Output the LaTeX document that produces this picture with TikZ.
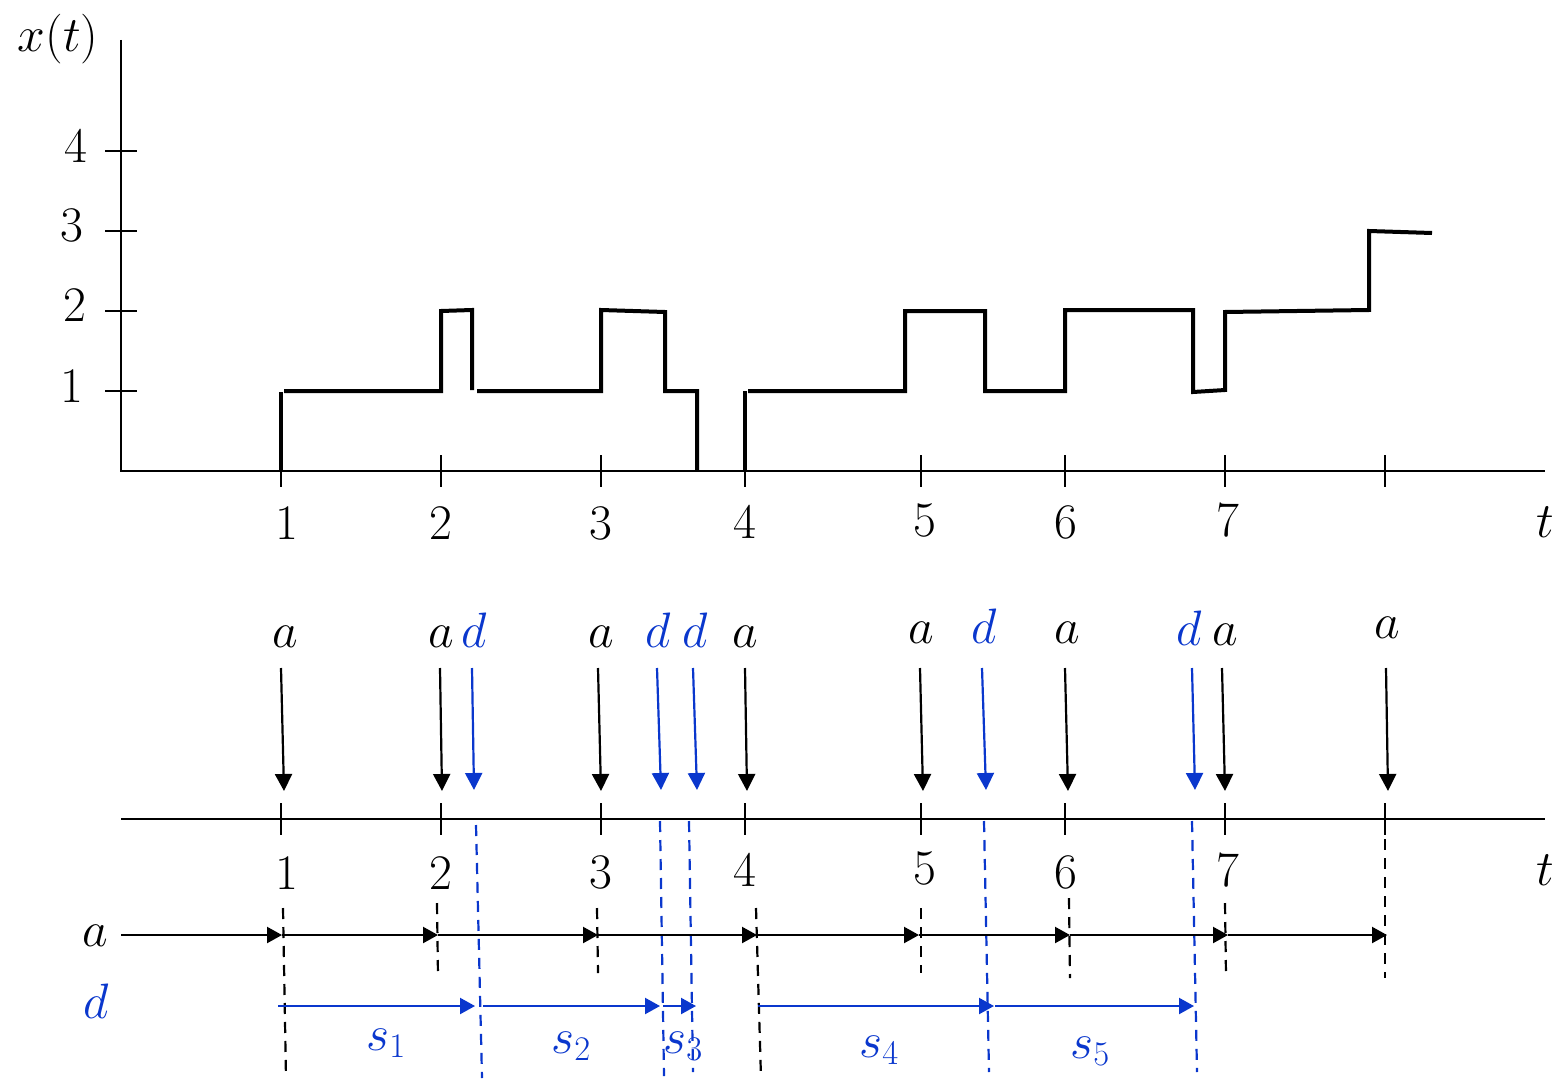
\documentclass[tikz,border=0pt]{standalone}
\usetikzlibrary{arrows.meta}
\definecolor{dblue}{RGB}{10,55,205}
\begin{document}
\begin{tikzpicture}[x=0.5pt,y=-0.5pt,
  lbl/.style={inner sep=0pt,font=\fontsize{26.5}{31}\selectfont},
  thin/.style={line width=1pt},
  sig/.style={line width=2pt,line join=miter},
  varr/.style={line width=1.1pt,-{Triangle[width=8.5pt,length=8.5pt]}},
  harr/.style={line width=1.1pt,-{Triangle[width=8pt,length=7.5pt]}},
  bdash/.style={line width=1.1pt,dash pattern=on 5.5pt off 4pt},
  blu/.style={dblue}]
\useasboundingbox (0,0) rectangle (1568,1081);

% ---------- top plot ----------
\coordinate (yaxtop) at (121,40);
\coordinate (orig) at (121,471);
\coordinate (xaxend) at (1545,471);
\draw[thin] (yaxtop) -- (orig) -- (xaxend);
\foreach \yy/\nm in {151/4,231/3,311/2,391/1}{
  \coordinate (yt\nm a) at (105,\yy); \coordinate (yt\nm b) at (137,\yy);
  \draw[thin] (yt\nm a) -- (yt\nm b);
}
\node[lbl] (xt) at (58,39) {$x(t)$};
\node[lbl] (y4) at (76,146) {$4$};
\node[lbl] (y3) at (72,225) {$3$};
\node[lbl] (y2) at (75,305) {$2$};
\node[lbl] (y1) at (72,386) {$1$};
\foreach \xx [count=\i] in {281,441,601,745,921,1065,1225,1385}{
  \coordinate (xt\i a) at (\xx,455); \coordinate (xt\i b) at (\xx,487);
  \draw[thin] (xt\i a) -- (xt\i b);
}
\foreach \xx/\yy/\t [count=\i] in {287/523/1,441/523/2,601/523/3,745/522/4,925/520/5,1066/522/6,1228/520/7,1545/522/t}{
  \node[lbl] (tl\i) at (\xx,\yy) {$\t$};
}
% signal
\draw[sig] (281,471) -- (281,392);
\draw[sig] (284,391) -- (441,391) -- (441,311) -- (472,310) -- (472,390);
\draw[sig] (477,391) -- (601,391) -- (601,310) -- (665,312) -- (665,391) -- (697,391) -- (697,471);
\draw[sig] (745,471) -- (745,391);
\draw[sig] (748,391) -- (905,391) -- (905,311) -- (985,311) -- (985,391) -- (1065,391) -- (1065,310) -- (1193,310) -- (1193,392) -- (1225,390) -- (1225,312) -- (1369,310) -- (1369,231) -- (1432,233);

% ---------- bottom timeline ----------
\coordinate (bl) at (121,819);
\coordinate (br) at (1545,819);
\draw[thin] (bl) -- (br);
\foreach \xx [count=\i] in {281,441,601,745,921,1065,1225,1385}{
  \coordinate (bt\i a) at (\xx,803); \coordinate (bt\i b) at (\xx,835);
  \draw[thin] (bt\i a) -- (bt\i b);
}
\foreach \xx/\yy/\t [count=\i] in {287/873/1,441/873/2,601/872/3,745/870/4,925/868/5,1066/872/6,1228/870/7,1545/870/t}{
  \node[lbl] (bl\i) at (\xx,\yy) {$\t$};
}

% arrival labels and arrows
\foreach \xx/\yb/\xs/\xe [count=\i] in {285/647/281/284,441/647/440/442,601/647/598/601,745/647/745/747,921/643/920/923,1067/643/1065/1068,1225/645/1222/1225,1387/638/1386/1388}{
  \node[lbl,anchor=base] (al\i) at (\xx,\yb) {$a$};
  \coordinate (as\i) at (\xs,668); \coordinate (ae\i) at (\xe,791);
  \draw[varr] (as\i) -- (ae\i);
}
\foreach \xx/\yb/\xs/\xe [count=\i] in {474/647/472/474,658/647/657/661,695/647/693/697,984/643/982/986,1189/645/1192/1195}{
  \node[lbl,anchor=base,text=dblue] (dl\i) at (\xx,\yb) {$d$};
  \coordinate (ds\i) at (\xs,668); \coordinate (de\i) at (\xe,790);
  \draw[varr,dblue] (ds\i) -- (de\i);
}

% row labels
\node[lbl,anchor=base] (rowa) at (95,946) {$a$};
\node[lbl,anchor=base,text=dblue] (rowd) at (96,1018) {$d$};

% black dashed verticals
\foreach \xa/\ya/\xb/\yb [count=\i] in {283/908/286/1078,437/903/438/977,597/908/598/973,756/908/761/1078,921/908/921/973,1069/898/1070/978,1225/903/1226/976,1385/820/1385/978}{
  \coordinate (kd\i a) at (\xa,\ya); \coordinate (kd\i b) at (\xb,\yb);
  \draw[bdash] (kd\i a) -- (kd\i b);
}
% blue dashed verticals
\foreach \xa/\ya/\xb/\yb [count=\i] in {476/825/482/1078,660/821/664/1076,689/821/693/1072,984/821/989/1072,1192/821/1197/1072}{
  \coordinate (bd\i a) at (\xa,\ya); \coordinate (bd\i b) at (\xb,\yb);
  \draw[bdash,dblue] (bd\i a) -- (bd\i b);
}

% a-row arrows
\coordinate (ar0) at (121,935);
\foreach \xx [count=\i] in {282,438,598,757,919,1070,1228,1387}{
  \coordinate (ar\i) at (\xx,935);
}
\foreach \i [evaluate=\i as \j using int(\i-1)] in {1,...,8}{
  \draw[harr] (ar\j) -- (ar\i);
}

% d-row arrows
\foreach \xa/\xb [count=\i] in {278/475,483/660,663/696,758/994,995/1194}{
  \coordinate (dr\i a) at (\xa,1006); \coordinate (dr\i b) at (\xb,1006);
  \draw[harr,dblue] (dr\i a) -- (dr\i b);
}

% s labels
\node[lbl,anchor=base west,text=dblue] (s1) at (366,1050) {$s_1$};
\node[lbl,anchor=base west,text=dblue] (s2) at (551,1053) {$s_2$};
\node[lbl,anchor=base west,text=dblue] (s3) at (663,1053) {$s_3$};
\node[lbl,anchor=base west,text=dblue] (s4) at (859,1057) {$s_4$};
\node[lbl,anchor=base west,text=dblue] (s5) at (1070,1058) {$s_5$};
\end{tikzpicture}
\end{document}
